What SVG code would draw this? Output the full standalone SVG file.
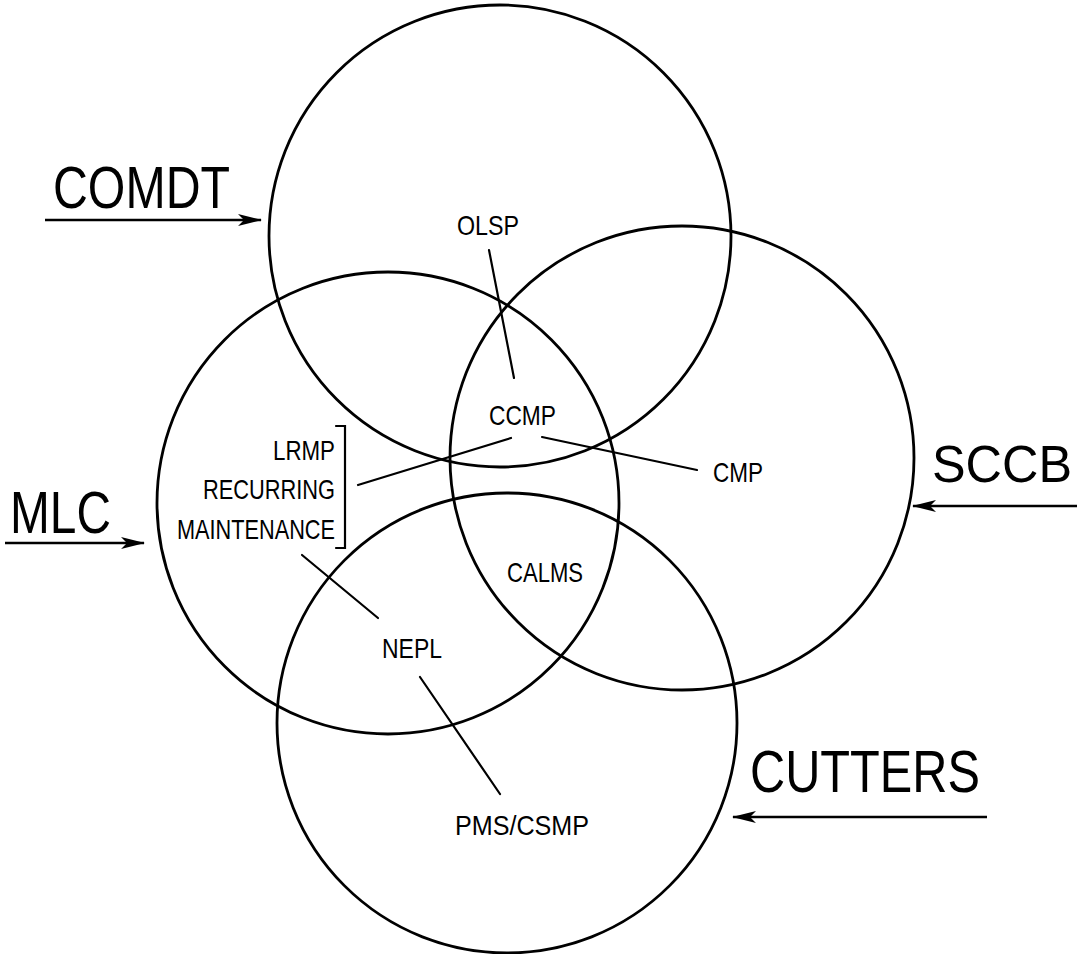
<svg xmlns="http://www.w3.org/2000/svg" width="1079" height="954" viewBox="0 0 1079 954">
  <style>
    .ring { fill: none; stroke: #000; stroke-width: 2.8; }
    .link { fill: none; stroke: #000; stroke-width: 2.2; stroke-linecap: round; }
    .feed { fill: none; stroke: #000; stroke-width: 2.4; }
    .big { font-family: "Liberation Sans", Arial, sans-serif; font-size: 60px; fill: #000; }
    .mid { font-family: "Liberation Sans", Arial, sans-serif; font-size: 52px; fill: #000; }
    .small { font-family: "Liberation Sans", Arial, sans-serif; font-size: 28px; fill: #000; }
  </style>
  <defs>
    <marker id="head" viewBox="0 0 24 14" refX="23" refY="7" markerWidth="24" markerHeight="14" markerUnits="userSpaceOnUse" orient="auto">
      <path d="M0,1 L24,7 L0,13 L6,7 Z" fill="#000"/>
    </marker>
  </defs>
  <rect width="1079" height="954" fill="#fff"/>

  <!-- four overlapping domains -->
  <g id="circle-comdt"><circle class="ring" cx="500" cy="236" r="231"/></g>
  <g id="circle-sccb"><circle class="ring" cx="682" cy="458" r="232"/></g>
  <g id="circle-mlc"><circle class="ring" cx="388" cy="503" r="231"/></g>
  <g id="circle-cutters"><circle class="ring" cx="507" cy="723" r="230"/></g>

  <!-- outer labels -->
  <g id="label-comdt"><text class="big" x="53" y="208" textLength="177" lengthAdjust="spacingAndGlyphs">COMDT</text></g>
  <g id="label-mlc"><text class="big" x="10" y="533" textLength="101" lengthAdjust="spacingAndGlyphs">MLC</text></g>
  <g id="label-sccb"><text class="mid" x="932" y="482" textLength="140" lengthAdjust="spacingAndGlyphs">SCCB</text></g>
  <g id="label-cutters"><text class="big" x="750" y="792" textLength="230" lengthAdjust="spacingAndGlyphs">CUTTERS</text></g>

  <!-- inner labels -->
  <g id="node-olsp"><text class="small" x="457" y="235" textLength="62" lengthAdjust="spacingAndGlyphs">OLSP</text></g>
  <g id="node-ccmp"><text class="small" x="489" y="425" textLength="67" lengthAdjust="spacingAndGlyphs">CCMP</text></g>
  <g id="node-cmp"><text class="small" x="713" y="482" textLength="50" lengthAdjust="spacingAndGlyphs">CMP</text></g>
  <g id="node-lrmp">
    <text class="small" x="273" y="460" textLength="62" lengthAdjust="spacingAndGlyphs">LRMP</text>
    <text class="small" x="203" y="499" textLength="132" lengthAdjust="spacingAndGlyphs">RECURRING</text>
    <text class="small" x="177" y="539" textLength="158" lengthAdjust="spacingAndGlyphs">MAINTENANCE</text>
    <path class="link" d="M336,426 H345 V548 H336" stroke-linecap="butt"/>
  </g>
  <g id="node-calms"><text class="small" x="507" y="582" textLength="76" lengthAdjust="spacingAndGlyphs">CALMS</text></g>
  <g id="node-nepl"><text class="small" x="382" y="658" textLength="60" lengthAdjust="spacingAndGlyphs">NEPL</text></g>
  <g id="node-pms"><text class="small" x="455" y="835" textLength="134" lengthAdjust="spacingAndGlyphs">PMS/CSMP</text></g>

  <!-- connectors -->
  <g id="connectors">
    <line class="link" x1="489" y1="250" x2="514" y2="378"/>
    <line class="link" x1="511" y1="438" x2="358" y2="485"/>
    <line class="link" x1="542" y1="437" x2="697" y2="470"/>
    <line class="link" x1="302" y1="555" x2="378" y2="618"/>
    <line class="link" x1="420" y1="677" x2="500" y2="794"/>
    <line class="feed" x1="45" y1="220" x2="261" y2="220" marker-end="url(#head)"/>
    <line class="feed" x1="5" y1="543" x2="144" y2="543" marker-end="url(#head)"/>
    <line class="feed" x1="1077" y1="506" x2="913" y2="506" marker-end="url(#head)"/>
    <line class="feed" x1="987" y1="817" x2="733" y2="817" marker-end="url(#head)"/>
  </g>
</svg>
